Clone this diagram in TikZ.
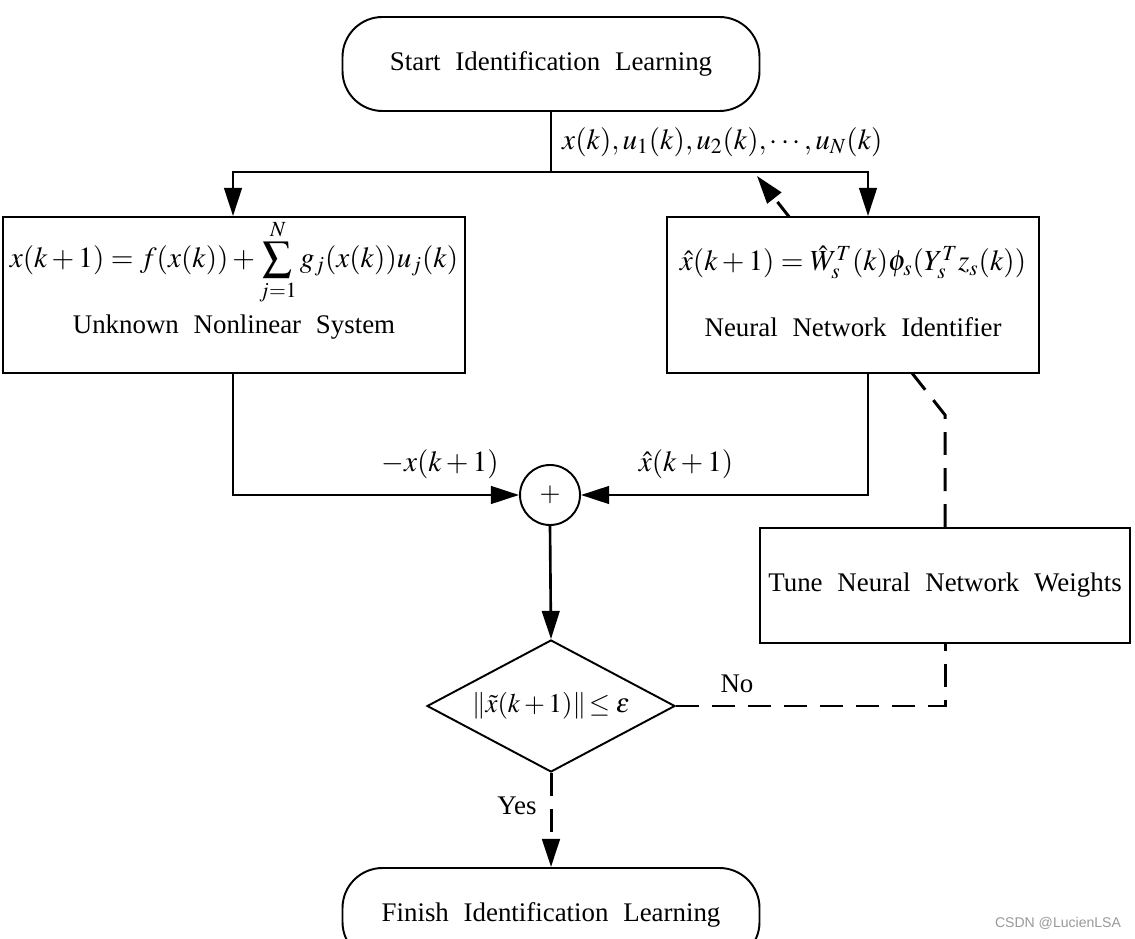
\documentclass[tikz,border=0pt]{standalone}
\usepackage{mathptmx}
\usepackage{fontspec}
\setmainfont[WordSpace=2.2]{Liberation Serif}
\newfontfamily\markfont{Liberation Sans}
\usetikzlibrary{arrows.meta,shapes.geometric}

\begin{document}
\begin{tikzpicture}[font=\fontsize{15.3}{18}\selectfont,
	blk/.style={draw, line width=1.1pt, fill=white, minimum height=3.12cm},
	term/.style={draw, line width=1.1pt, rounded corners=0.8cm, minimum width=8.34cm, minimum height=1.88cm},
	eq/.style={font=\fontsize{16.6}{19}\selectfont},
	flow/.style={line width=1.5pt, -{Triangle[length=16pt,width=10pt]}},
	tuneline/.style={line width=1.7pt, dash pattern=on 13pt off 7.5pt}]
	\useasboundingbox (0,0) rectangle (22.7,18.76);

	\node[term] (start) at (11.02,17.48) {Start Identification Learning};
	\coordinate (fork) at (11.02,15.32);
	\coordinate (forkL) at (4.66,15.32);
	\coordinate (forkR) at (17.36,15.32);
	\coordinate (bend) at (18.9,10.46);
	\coordinate (tip) at (15.14,15.24);

	\node[blk, minimum width=7.4cm, minimum height=2.3cm] (tune) at (18.9,7.05) {Tune Neural Network Weights};
	% tuning arrow runs behind the identifier box
	\draw[tuneline, -{Triangle[length=16pt,width=10pt]}] (tune.north) -- (bend) -- (tip);

	\node[blk, minimum width=9.24cm] (sys) at (4.68,12.86) {};
	\node[blk, minimum width=7.44cm] (nni) at (17.06,12.86) {};
	\node[eq] (sysf) at ([yshift=0.66cm]sys.center) {$\displaystyle x(k+1)=f(x(k))+\sum_{j=1}^{N}g_j(x(k))u_j(k)$};
	\node (syst) at ([yshift=-0.64cm]sys.center) {Unknown Nonlinear System};
	\node[eq] (nnif) at ([yshift=0.66cm]nni.center) {$\hat{x}(k+1)=\hat{W}_s^{T}(k)\phi_s(Y_s^{T}z_s(k))$};
	\node (nnit) at ([yshift=-0.64cm]nni.center) {Neural Network Identifier};

	\node[draw, circle, line width=1.1pt, minimum size=1.2cm, inner sep=0pt] (sum) at (11.0,8.86) {$+$};
	\node[draw, diamond, line width=1.1pt, minimum width=4.96cm, minimum height=2.64cm, inner sep=0pt, aspect=1.88] (chk) at (11.02,4.64) {$\|\tilde{x}(k+1)\|\!\le\varepsilon$};
	\node[term] (finish) at (11.02,0.46) {Finish Identification Learning};

	\draw[line width=1.5pt] (start.south) -- (fork);
	\draw[flow] (fork) -- (forkL) -- (sys.north -| forkL);
	\draw[flow] (fork) -- (forkR) -- (nni.north -| forkR);
	\node[anchor=west, eq] (inlab) at (11.12,15.92) {$x(k),u_1(k),u_2(k),\cdots,u_N(k)$};

	\draw[flow] (sys.south -| forkL) |- (sum.west);
	\draw[flow] (nni.south -| forkR) |- (sum.east);
	\node[eq] (minus) at (8.8,9.48) {$-x(k+1)$};
	\node[eq] (xhat) at (13.72,9.48) {$\hat{x}(k+1)$};

	\draw[flow] (sum.south) -- (chk.north);
	\draw[tuneline, -{Triangle[length=16pt,width=10pt]}] (chk.south) -- (finish.north);
	\node (yes) at (10.34,2.64) {Yes};
	\draw[tuneline] (chk.east) -| (tune.south);
	\node (no) at (14.74,5.08) {No};

	\node[text=gray!80, font=\markfont\fontsize{8}{9}\selectfont] (mark) at (21.16,0.3) {CSDN @LucienLSA};
\end{tikzpicture}
\end{document}
